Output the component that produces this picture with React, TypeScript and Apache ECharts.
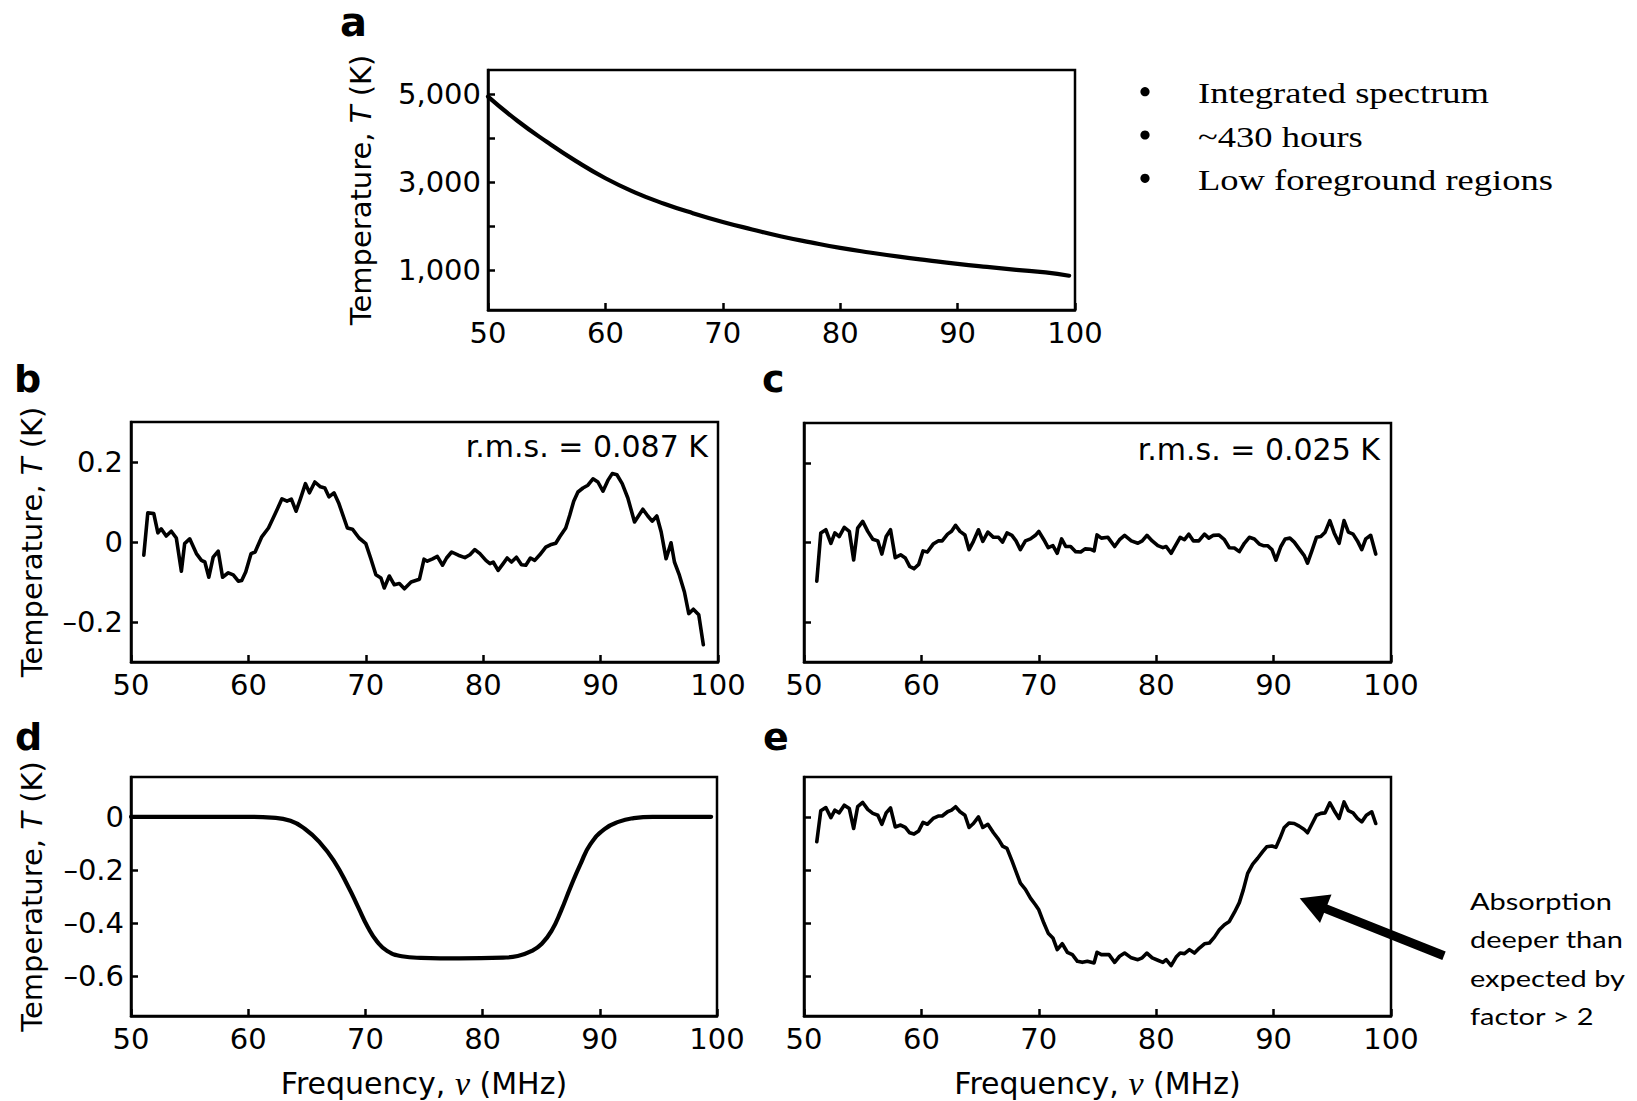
import React, { useEffect, useRef } from "react";
import * as echarts from "echarts";

// ---------- data ----------
// Panel a: integrated sky spectrum (K)
const freqA = [50, 52.5, 55, 57.5, 60, 62.5, 65, 67.5, 70, 72.5, 75, 77.5, 80, 82.5, 85, 87.5, 90, 92.5, 95, 97.5, 99.5];
const tempA = [4950, 4400, 3920, 3480, 3090, 2770, 2510, 2290, 2095, 1925, 1765, 1630, 1505, 1400, 1305, 1220, 1140, 1070, 1005, 945, 870];
const ticksA = [1000, 2000, 3000, 4000, 5000];
const labelsA = [1000, 3000, 5000];

// Panel b: residual, r.m.s. = 0.087 K
const freqB = [51.09, 51.43, 51.94, 52.29, 52.57, 53.0, 53.43, 53.86, 54.29, 54.57, 55.0, 55.57, 56.0, 56.29, 56.63, 57.0, 57.43, 57.8, 58.29, 58.71, 59.14, 59.43, 59.77, 60.23, 60.57, 61.14, 61.71, 62.29, 62.86, 63.29, 63.66, 64.06, 64.43, 64.86, 65.2, 65.66, 66.14, 66.51, 66.86, 67.29, 67.71, 68.43, 68.86, 69.43, 70.0, 70.43, 70.86, 71.29, 71.57, 72.0, 72.43, 72.86, 73.29, 73.86, 74.57,
  74.96, 75.24, 75.69, 76.09, 76.54, 76.88, 77.31, 77.88, 78.44, 78.87, 79.29, 79.72, 80.23, 80.57, 80.85, 81.27, 81.7, 82.04, 82.41, 82.83, 83.26, 83.63, 84.02, 84.39, 84.82, 85.33, 85.72, 86.18, 86.52, 87.03, 87.37, 87.71, 88.07, 88.5, 88.92, 89.35, 89.77, 90.2, 90.62, 90.99, 91.39, 91.84, 92.32, 92.89, 93.6, 94.02, 94.39, 94.79, 95.16, 95.58, 96.0, 96.29, 96.71, 97.14, 97.51, 97.9, 98.36, 98.75];
const tempB = [-0.033, 0.073, 0.071, 0.023, 0.033, 0.015, 0.027, 0.01, -0.073, -0.004, 0.008, -0.029, -0.046, -0.05, -0.088, -0.038, -0.023, -0.088, -0.077, -0.082, -0.098, -0.096, -0.075, -0.029, -0.025, 0.013, 0.035, 0.071, 0.108, 0.102, 0.107, 0.077, 0.108, 0.146, 0.123, 0.15, 0.138, 0.135, 0.113, 0.123, 0.096, 0.035, 0.032, 0.01, -0.004, -0.042, -0.082, -0.09, -0.115, -0.085, -0.107, -0.104, -0.117, -0.1, -0.093,
  -0.043, -0.048, -0.042, -0.036, -0.058, -0.04, -0.025, -0.033, -0.039, -0.032, -0.019, -0.029, -0.046, -0.054, -0.05, -0.071, -0.054, -0.04, -0.05, -0.038, -0.057, -0.058, -0.04, -0.046, -0.032, -0.013, -0.007, -0.003, 0.013, 0.035, 0.067, 0.102, 0.125, 0.135, 0.142, 0.158, 0.15, 0.127, 0.154, 0.171, 0.168, 0.146, 0.11, 0.05, 0.082, 0.065, 0.052, 0.065, 0.025, -0.042, -0.002, -0.05, -0.083, -0.125, -0.179, -0.168, -0.182, -0.257];

// Panel c: residual with absorption profile included, r.m.s. = 0.025 K
const freqC = [51.09, 51.43, 51.86, 52.29, 52.63, 53.0, 53.43, 53.86, 54.23, 54.57, 55.0, 55.43, 55.86, 56.29, 56.63, 57.0, 57.37, 57.77, 58.23, 58.63, 59.0, 59.37, 59.77, 60.14, 60.51, 61.0, 61.43, 61.77, 62.23, 62.57, 62.91, 63.29, 63.71, 64.06, 64.43, 64.86, 65.23, 65.66, 66.14, 66.57, 66.91, 67.29, 67.71, 68.06, 68.43, 68.86, 69.29, 69.71, 70.0, 70.43, 70.8, 71.2, 71.57, 71.94, 72.29, 72.71, 73.14, 73.57, 73.94, 74.43, 74.71,
  74.96, 75.33, 75.89, 76.46, 76.88, 77.31, 77.88, 78.44, 78.81, 79.21, 79.66, 80.14, 80.57, 80.85, 81.27, 81.64, 82.04, 82.41, 82.78, 83.17, 83.63, 84.11, 84.48, 84.87, 85.33, 85.81, 86.23, 86.66, 87.08, 87.51, 87.93, 88.36, 88.78, 89.12, 89.49, 89.86, 90.2, 90.62, 90.99, 91.39, 91.76, 92.18, 92.61, 92.89, 93.26, 93.65, 94.02, 94.39, 94.79, 95.16, 95.58, 96.0, 96.37, 96.77, 97.14, 97.51, 97.85, 98.27, 98.7];
const tempC = [-0.097, 0.024, 0.032, -0.002, 0.024, 0.015, 0.038, 0.028, -0.044, 0.036, 0.053, 0.028, 0.008, 0.004, -0.029, 0.015, 0.032, -0.038, -0.031, -0.039, -0.06, -0.066, -0.055, -0.021, -0.024, -0.004, 0.004, 0.004, 0.021, 0.028, 0.043, 0.028, 0.019, -0.018, 0.003, 0.032, 0.003, 0.026, 0.013, 0.013, 0.001, 0.024, 0.018, 0.004, -0.018, 0.004, 0.009, 0.018, 0.028, 0.007, -0.013, -0.008, -0.027, 0.009, -0.01, -0.01, -0.023, -0.024, -0.016, -0.017, -0.021,
  0.019, 0.011, 0.013, -0.01, 0.007, 0.018, 0.004, -0.002, 0.004, 0.018, 0.004, -0.008, -0.013, -0.01, -0.027, -0.008, 0.013, 0.007, 0.021, 0.004, 0.004, 0.021, 0.011, 0.018, 0.019, 0.007, -0.013, -0.014, -0.023, -0.002, 0.013, 0.009, -0.004, -0.008, -0.008, -0.018, -0.044, -0.01, 0.009, 0.011, 0.001, -0.016, -0.033, -0.052, -0.021, 0.013, 0.015, 0.026, 0.055, 0.024, -0.002, 0.055, 0.026, 0.021, 0.004, -0.018, 0.009, 0.018, -0.029];

// Panel d: best-fitting absorption profile
const freqD = [50, 55, 60, 62, 63.6, 64.85, 66.1, 67.3, 68.56, 69.38, 70.2, 71.0, 71.86, 73.1, 74.74, 78, 81.75, 83, 84.2, 85.05, 85.9, 86.7, 87.5, 88.35, 89.2, 90.4, 91.65, 92.9, 94.5, 97, 99.5];
const tempD = [0, 0, 0, -0.003, -0.015, -0.046, -0.096, -0.165, -0.265, -0.34, -0.415, -0.47, -0.505, -0.525, -0.531, -0.533, -0.53, -0.524, -0.505, -0.478, -0.428, -0.353, -0.265, -0.178, -0.103, -0.046, -0.018, -0.005, 0, 0, 0];

// Panel e: profile plus residual
const freqE = [51.09, 51.43, 51.86, 52.29, 52.63, 53.0, 53.43, 53.86, 54.23, 54.57, 55.0, 55.43, 55.86, 56.29, 56.63, 57.0, 57.37, 57.77, 58.23, 58.63, 59.0, 59.37, 59.77, 60.14, 60.51, 61.0, 61.43, 61.77, 62.23, 62.57, 62.91, 63.29, 63.71, 64.06, 64.43, 64.86, 65.23, 65.66, 66.14, 66.57, 66.91, 67.29, 67.71, 68.06, 68.43, 68.86, 69.29, 69.71, 70.0, 70.43, 70.8, 71.2, 71.57, 72.0, 72.43, 72.86, 73.29, 73.71, 74.14, 74.71,
  74.96, 75.33, 75.98, 76.46, 76.88, 77.31, 77.88, 78.44, 78.81, 79.21, 79.66, 80.14, 80.57, 80.85, 81.27, 81.7, 82.04, 82.41, 82.83, 83.26, 83.68, 84.11, 84.53, 84.96, 85.38, 85.81, 86.23, 86.66, 87.08, 87.42, 87.79, 88.22, 88.64, 89.07, 89.41, 89.86, 90.2, 90.54, 90.91, 91.33, 91.76, 92.18, 92.61, 92.89, 93.26, 93.65, 94.02, 94.39, 94.79, 95.16, 95.58, 96.0, 96.37, 96.77, 97.14, 97.51, 97.9, 98.36, 98.7];
const tempE = [-0.094, 0.023, 0.035, -0.003, 0.025, 0.015, 0.044, 0.031, -0.044, 0.038, 0.054, 0.028, 0.013, 0.006, -0.028, 0.015, 0.034, -0.038, -0.031, -0.04, -0.06, -0.065, -0.053, -0.021, -0.028, -0.006, 0.003, 0.003, 0.019, 0.025, 0.038, 0.019, 0.006, -0.04, -0.025, 0, -0.04, -0.028, -0.06, -0.085, -0.11, -0.119, -0.165, -0.206, -0.25, -0.273, -0.306, -0.331, -0.35, -0.4, -0.438, -0.456, -0.5, -0.478, -0.51, -0.519, -0.544, -0.548, -0.544, -0.55,
  -0.51, -0.519, -0.519, -0.548, -0.525, -0.513, -0.531, -0.538, -0.531, -0.513, -0.531, -0.54, -0.548, -0.538, -0.56, -0.528, -0.513, -0.515, -0.5, -0.513, -0.494, -0.478, -0.475, -0.453, -0.425, -0.406, -0.394, -0.36, -0.323, -0.275, -0.213, -0.178, -0.156, -0.131, -0.113, -0.11, -0.115, -0.081, -0.04, -0.023, -0.025, -0.035, -0.048, -0.06, -0.028, 0.006, 0.013, 0.015, 0.053, 0.023, -0.006, 0.056, 0.023, 0.015, -0.006, -0.019, 0.006, 0.019, -0.025];

const ticksBC = [-0.2, 0, 0.2];
const ticksDE = [-0.6, -0.4, -0.2, 0];
const bulletLines = ["Integrated spectrum", "~430 hours", "Low foreground regions"];
const noteLines = ["Absorption", "deeper than", "expected by", "factor > 2"];
const rmsB = "r.m.s. = 0.087 K";
const rmsC = "r.m.s. = 0.025 K";

// ---------- styling ----------
const SANS = "DejaVu Sans";
const FS = 29;
const BORDER = 2.5;

const zip = (xs: number[], ys: number[]) => xs.map((x, i) => [x, ys[i]]);
const fmtSmall = (v: number) => (Math.abs(v) < 1e-9 ? "0" : v < 0 ? "\u2013" + Math.abs(v).toFixed(1) : v.toFixed(1));
const fmtBig = (v: number) => Math.round(v).toLocaleString("en-US");

function grid(left: number, top: number, width: number, height: number) {
  return {
    left, top, width, height, show: true, borderColor: "#000", borderWidth: BORDER,
    backgroundColor: "transparent", containLabel: false, outerBoundsMode: "none",
  };
}

function xAxisFor(gridIndex: number, withName: boolean) {
  return {
    type: "value", gridIndex, min: 50, max: 100, interval: 10,
    axisLine: { show: true, onZero: false, lineStyle: { color: "#000", width: BORDER } },
    axisTick: { show: true, inside: true, length: 7, lineStyle: { color: "#000", width: BORDER } },
    axisLabel: { show: true, margin: 8, color: "#000", fontFamily: SANS, fontSize: FS, showMinLabel: true, showMaxLabel: true },
    splitLine: { show: false },
    name: withName ? "Frequency, {nu|\u03bd} (MHz)" : "",
    nameLocation: "middle",
    nameGap: 50,
    nameTextStyle: {
      color: "#000", fontFamily: SANS, fontSize: 30,
      rich: { nu: { fontFamily: "Liberation Serif", fontStyle: "italic", fontSize: 34, color: "#000" } },
    },
  };
}

function yAxisFor(o: any) {
  return {
    type: "value", gridIndex: o.grid, min: o.min, max: o.max,
    axisLine: { show: true, onZero: false, lineStyle: { color: "#000", width: BORDER } },
    axisTick: { show: true, inside: true, length: 7, customValues: o.ticks, lineStyle: { color: "#000", width: BORDER } },
    axisLabel: {
      show: !!o.labels, customValues: o.labels || o.ticks, margin: o.margin || 8, color: "#000",
      fontFamily: SANS, fontSize: FS, formatter: o.fmt,
    },
    splitLine: { show: false },
    name: o.withName ? "Temperature, {i|T} (K)" : "",
    nameLocation: "middle",
    nameGap: o.nameGap || 80,
    nameRotate: 90,
    nameTextStyle: {
      color: "#000", fontFamily: SANS, fontSize: FS,
      rich: { i: { fontFamily: SANS, fontStyle: "italic", fontSize: FS, color: "#000" } },
    },
  };
}

function lineSeries(idx: number, data: number[][], smooth: boolean) {
  return {
    type: "line", xAxisIndex: idx, yAxisIndex: idx, data,
    showSymbol: false, symbol: "none", smooth: smooth ? 0.5 : false,
    lineStyle: { color: "#000", width: smooth ? 4.2 : 3.6, join: "round", cap: "round" },
    silent: true, z: 3,
  };
}

function text(x: number, y: number, t: string, style: any, extra: any = {}) {
  return {
    type: "text", x, y, silent: true, ...extra,
    style: { text: t, x: 0, y: 0, fill: "#000", align: "left", verticalAlign: "middle", ...style },
  };
}

export default function App() {
  const ref = useRef<HTMLDivElement>(null);

  useEffect(() => {
    if (!ref.current) return;
    const chart = echarts.init(ref.current, null, { renderer: "svg" });

    const graphic: any[] = [];
    // panel letters
    graphic.push(text(340, 22, "a", { fontFamily: SANS, fontWeight: "bold", fontSize: 40 }));
    graphic.push(text(14, 378.7, "b", { fontFamily: SANS, fontWeight: "bold", fontSize: 38 }));
    graphic.push(text(762, 378.7, "c", { fontFamily: SANS, fontWeight: "bold", fontSize: 38 }));
    graphic.push(text(15, 736.7, "d", { fontFamily: SANS, fontWeight: "bold", fontSize: 38 }));
    graphic.push(text(763, 736.7, "e", { fontFamily: SANS, fontWeight: "bold", fontSize: 38 }));
    // r.m.s. notes
    graphic.push(text(708, 446.5, rmsB, { fontFamily: SANS, fontSize: 30, align: "right" }));
    graphic.push(text(1380, 449, rmsC, { fontFamily: SANS, fontSize: 30, align: "right" }));
    // bullets
    const bulletY = [93.5, 137, 180.5];
    const dotY = [91.7, 135, 178.3];
    bulletLines.forEach((t, i) => {
      graphic.push({ type: "circle", silent: true, shape: { cx: 1145, cy: dotY[i], r: 4.6 }, style: { fill: "#000" } });
      graphic.push(text(1198, bulletY[i], t, { fontFamily: "Liberation Serif", fontSize: 29 }, { scaleX: 1.26 }));
    });
    // annotation
    const noteY = [900.9, 939.6, 978.6, 1016.1];
    noteLines.forEach((t, i) => {
      graphic.push(text(1470, noteY[i], t, { fontFamily: "Lato", fontSize: 23 }, { scaleX: 1.26 }));
    });
    graphic.push({
      type: "line", silent: true,
      shape: { x1: 1444, y1: 955.7, x2: 1323, y2: 907.6 },
      style: { stroke: "#000", lineWidth: 9, lineCap: "butt" },
    });
    graphic.push({
      type: "polygon", silent: true,
      shape: { points: [[1299.7, 898.3], [1331.5, 894.5], [1320.0, 923.0]] },
      style: { fill: "#000" },
    });

    const option: any = {
      animation: false,
      backgroundColor: "#fff",
      textStyle: { fontFamily: SANS, color: "#000" },
      grid: [
        grid(488, 70, 587, 240),
        grid(131, 422, 587, 240),
        grid(804, 423, 587, 239),
        grid(131, 777, 586, 239),
        grid(804, 777, 587, 239),
      ],
      xAxis: [
        xAxisFor(0, false),
        xAxisFor(1, false),
        xAxisFor(2, false),
        xAxisFor(3, true),
        xAxisFor(4, true),
      ],
      yAxis: [
        yAxisFor({ grid: 0, min: 90, max: 5555, ticks: ticksA, labels: labelsA, fmt: fmtBig, withName: true, nameGap: 113, margin: 7 }),
        yAxisFor({ grid: 1, min: -0.3, max: 0.3, ticks: ticksBC, labels: ticksBC, fmt: fmtSmall, withName: true, nameGap: 85, margin: 8 }),
        yAxisFor({ grid: 2, min: -0.3, max: 0.3, ticks: ticksBC, labels: null }),
        yAxisFor({ grid: 3, min: -0.75, max: 0.15, ticks: ticksDE, labels: ticksDE, fmt: fmtSmall, withName: true, nameGap: 85, margin: 7 }),
        yAxisFor({ grid: 4, min: -0.75, max: 0.15, ticks: ticksDE, labels: null }),
      ],
      series: [
        lineSeries(0, zip(freqA, tempA), true),
        lineSeries(1, zip(freqB, tempB), false),
        lineSeries(2, zip(freqC, tempC), false),
        lineSeries(3, zip(freqD, tempD), true),
        lineSeries(4, zip(freqE, tempE), false),
      ],
      graphic,
    };

    chart.setOption(option);
    return () => chart.dispose();
  }, []);

  return (
    <div
      ref={ref}
      style={{ position: "absolute", left: 0, top: 0, width: 1637, height: 1101, background: "#fff" }}
    />
  );
}
